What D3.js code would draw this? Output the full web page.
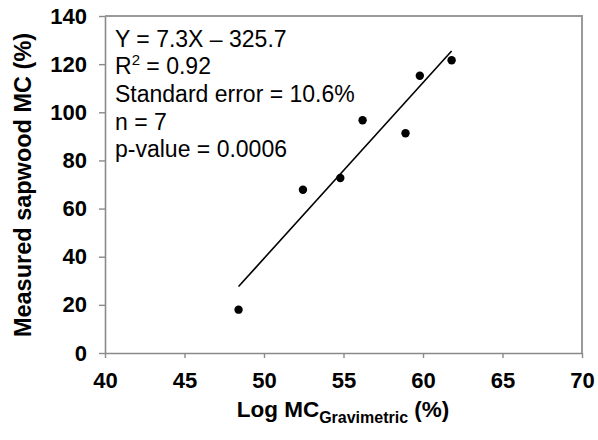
<!DOCTYPE html>
<html>
<head>
<meta charset="utf-8">
<script src="https://cdn.jsdelivr.net/npm/d3@7"></script>
<style>
  html, body { margin: 0; padding: 0; background: #fff; }
  svg { display: block; font-family: Arial, "Liberation Sans", Helvetica, sans-serif; }
</style>
</head>
<body>
<svg id="chart" width="598" height="440"></svg>
<script>
// Data
const logMC = [48.4, 52.45, 54.8, 56.2, 58.9, 59.8, 61.8];
const sapwoodMC = [18.0, 67.8, 72.7, 96.7, 91.3, 115.2, 121.6];
const slope = 7.3;
const intercept = -325.7;
const xTicks = [40, 45, 50, 55, 60, 65, 70];
const yTicks = [0, 20, 40, 60, 80, 100, 120, 140];
const statsLines = ["Y = 7.3X \u2013 325.7", "R\u00b2 = 0.92", "Standard error = 10.6%", "n = 7", "p-value = 0.0006"];

const svg = d3.select("#chart");
const x = d3.scaleLinear().domain([40, 70]).range([105, 582]);
const y = d3.scaleLinear().domain([0, 140]).range([353, 16]);
const axisColor = "#8a8a8a";

// Box border (top and right)
svg.append("path")
  .attr("d", `M${x(40)},${y(140)}H${x(70)}V${y(0)}`)
  .attr("fill", "none").attr("stroke", "#9a9a9a").attr("stroke-width", 2);

// X axis
const gx = svg.append("g").attr("transform", `translate(0,${y(0)})`)
  .call(d3.axisBottom(x).tickValues(xTicks).tickSize(5).tickPadding(14).tickSizeOuter(0));
gx.select(".domain").attr("stroke", axisColor).attr("stroke-width", 1.6);
gx.selectAll(".tick line").attr("stroke", axisColor).attr("stroke-width", 1.4);
gx.selectAll(".tick text").attr("fill", "#000").attr("font-size", 22).attr("font-weight", "bold")
  .attr("font-family", "Arial, 'Liberation Sans', sans-serif");

// Y axis
const gy = svg.append("g").attr("transform", `translate(${x(40)},0)`)
  .call(d3.axisLeft(y).tickValues(yTicks).tickSize(6).tickPadding(12).tickSizeOuter(0));
gy.select(".domain").attr("stroke", axisColor).attr("stroke-width", 1.6);
gy.selectAll(".tick line").attr("stroke", axisColor).attr("stroke-width", 1.4);
gy.selectAll(".tick text").attr("fill", "#000").attr("font-size", 22).attr("font-weight", "bold")
  .attr("font-family", "Arial, 'Liberation Sans', sans-serif");

// Regression line
const xmin = d3.min(logMC), xmax = d3.max(logMC);
svg.append("line")
  .attr("x1", x(xmin)).attr("y1", y(slope * xmin + intercept))
  .attr("x2", x(xmax)).attr("y2", y(slope * xmax + intercept))
  .attr("stroke", "#000").attr("stroke-width", 1.6);

// Points
svg.append("g").selectAll("circle")
  .data(logMC.map((d, i) => [d, sapwoodMC[i]]))
  .join("circle")
  .attr("cx", d => x(d[0])).attr("cy", d => y(d[1])).attr("r", 4.2)
  .attr("fill", "#000");

// Stats annotation
const ann = svg.append("g").attr("font-size", 23).attr("fill", "#000");
const baselines = [46.5, 74, 102, 129.5, 157];
statsLines.forEach((s, i) => {
  const t = ann.append("text").attr("x", 115).attr("y", baselines[i]);
  if (s.startsWith("R\u00b2")) {
    t.append("tspan").text("R");
    t.append("tspan").attr("font-size", 15).attr("dy", -9).text("2");
    t.append("tspan").attr("dy", 9).text(" = 0.92");
  } else {
    t.text(s);
  }
});

// Y axis title
svg.append("text")
  .attr("transform", `translate(31,185) rotate(-90)`)
  .attr("text-anchor", "middle")
  .attr("font-size", 23.5).attr("font-weight", "bold").attr("fill", "#000")
  .text("Measured sapwood MC (%)");

// X axis title
const xt = svg.append("text")
  .attr("x", 343).attr("y", 417)
  .attr("text-anchor", "middle")
  .attr("font-size", 22.5).attr("font-weight", "bold").attr("fill", "#000");
xt.append("tspan").text("Log MC");
xt.append("tspan").attr("font-size", 16).attr("dy", 6).text("Gravimetric");
xt.append("tspan").attr("dy", -6).text(" (%)");
</script>
</body>
</html>
